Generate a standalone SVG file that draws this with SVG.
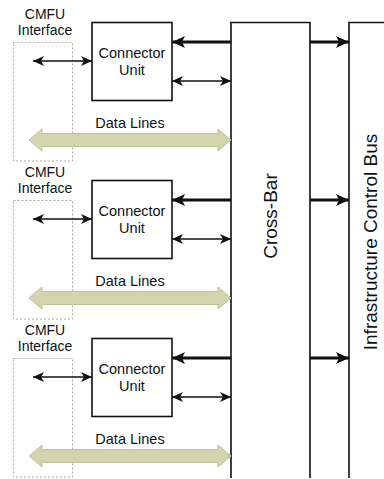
<svg xmlns="http://www.w3.org/2000/svg" width="384" height="479" viewBox="0 0 384 479">
<style>
text{font-family:"Liberation Sans",Arial,sans-serif;fill:#111}
.lbl{font-size:14px;text-anchor:middle}
.cu{font-size:14.5px;text-anchor:middle}
.box{fill:#fff;stroke:#111;stroke-width:1.6}
.dash{fill:none;stroke:#aaa;stroke-width:1;stroke-dasharray:2,2}
.thin{stroke:#111;stroke-width:1.6;fill:none;marker-start:url(#hs);marker-end:url(#he)}
.thick{stroke:#111;stroke-width:3;fill:none;marker-end:url(#hb)}
.data{fill:#d2d4ad;stroke:#bfc197;stroke-width:1}
</style>
<defs>
<marker id="he" markerUnits="userSpaceOnUse" markerWidth="12" markerHeight="10" refX="11" refY="5" orient="auto"><path d="M0,0 L11,5 L0,10 L3,5 Z" fill="#111"/></marker>
<marker id="hs" markerUnits="userSpaceOnUse" markerWidth="12" markerHeight="10" refX="1" refY="5" orient="auto"><path d="M12,0 L1,5 L12,10 L9,5 Z" fill="#111"/></marker>
<marker id="hb" markerUnits="userSpaceOnUse" markerWidth="14" markerHeight="12" refX="13" refY="6" orient="auto"><path d="M0,0 L13,6 L0,12 L3,6 Z" fill="#111"/></marker>
<g id="data">
<path d="M29,0 L42,-11 L42,-6.5 L218,-6.5 L218,-11 L231,0 L218,11 L218,6.5 L42,6.5 L42,11 Z"/>
</g>
</defs>
<g id="crossbar">
<path d="M231,478 V22.5 H310 V478" fill="#fff" stroke="#111" stroke-width="1.6"/>
<text transform="translate(277,216) rotate(-90)" font-size="19" text-anchor="middle">Cross-Bar</text>
</g>
<g id="bus">
<path d="M349,478 V22.5 H386" fill="#fff" stroke="#111" stroke-width="1.6"/>
<text transform="translate(377,242) rotate(-90)" font-size="19" text-anchor="middle">Infrastructure Control Bus</text>
</g>
<g id="unit1">
<text class="lbl" x="45" y="19">CMFU</text>
<text class="lbl" x="45" y="35">Interface</text>
<rect class="dash" x="13.5" y="42.5" width="59" height="118.5"/>
<rect class="box" x="92" y="22.5" width="80" height="78"/>
<text class="cu" x="132" y="58">Connector</text>
<text class="cu" x="132" y="75">Unit</text>
<text class="cu" x="130" y="128">Data Lines</text>
</g>
<g id="unit2" transform="translate(0,158)">
<text class="lbl" x="45" y="19">CMFU</text>
<text class="lbl" x="45" y="35">Interface</text>
<rect class="dash" x="13.5" y="42.5" width="59" height="118.5"/>
<rect class="box" x="92" y="22.5" width="80" height="78"/>
<text class="cu" x="132" y="58">Connector</text>
<text class="cu" x="132" y="75">Unit</text>
<text class="cu" x="130" y="128">Data Lines</text>
</g>
<g id="unit3" transform="translate(0,316)">
<text class="lbl" x="45" y="19">CMFU</text>
<text class="lbl" x="45" y="35">Interface</text>
<rect class="dash" x="13.5" y="42.5" width="59" height="118.5"/>
<rect class="box" x="92" y="22.5" width="80" height="78"/>
<text class="cu" x="132" y="58">Connector</text>
<text class="cu" x="132" y="75">Unit</text>
<text class="cu" x="130" y="128">Data Lines</text>
</g>
<g id="connectors">
<path class="thin" d="M33,61 H92"/>
<path class="thick" d="M231,42 H172"/>
<path class="thin" d="M172,81 H231"/>
<use href="#data" class="data" y="140"/>
<path class="thick" d="M310,42 H349"/>
<path class="thin" d="M33,219 H92"/>
<path class="thick" d="M231,200 H172"/>
<path class="thin" d="M172,239 H231"/>
<use href="#data" class="data" y="298"/>
<path class="thick" d="M310,200 H349"/>
<path class="thin" d="M33,377 H92"/>
<path class="thick" d="M231,358 H172"/>
<path class="thin" d="M172,397 H231"/>
<use href="#data" class="data" y="456"/>
<path class="thick" d="M310,358 H349"/>
</g>
</svg>
